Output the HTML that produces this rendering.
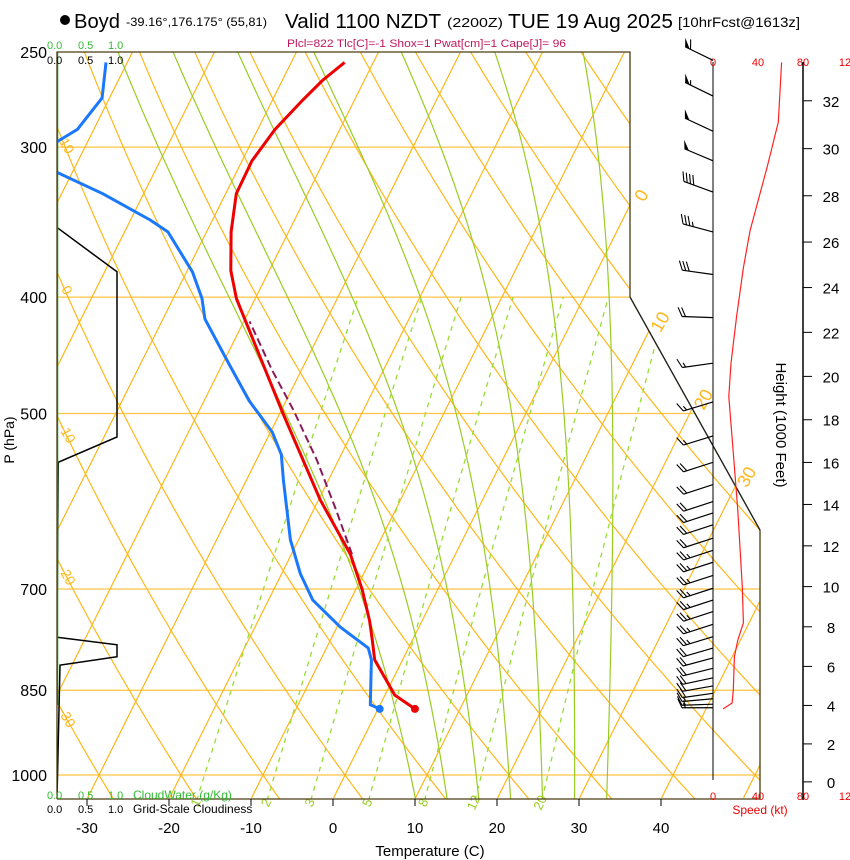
<!DOCTYPE html>
<html><head><meta charset="utf-8">
<style>
html,body{margin:0;padding:0;background:#fff;}
svg{display:block;font-family:"Liberation Sans",sans-serif;}
</style></head>
<body>
<svg id="chart" width="850" height="860" viewBox="0 0 850 860" xmlns="http://www.w3.org/2000/svg">
<defs><clipPath id="plotclip"><polygon points="57,52 630,52 630,297 760,530 760,799 57,799"/></clipPath></defs>
<g>
<circle cx="65" cy="20" r="5" fill="#000"/>
<text x="74" y="28" font-size="20" textLength="46" lengthAdjust="spacingAndGlyphs">Boyd</text>
<text x="126" y="26" font-size="12" textLength="141" lengthAdjust="spacingAndGlyphs">-39.16°,176.175° (55,81)</text>
<text x="285" y="28" font-size="20" textLength="156" lengthAdjust="spacingAndGlyphs">Valid 1100 NZDT</text>
<text x="447" y="27" font-size="13" textLength="56" lengthAdjust="spacingAndGlyphs">(2200Z)</text>
<text x="508" y="28" font-size="20" textLength="165" lengthAdjust="spacingAndGlyphs">TUE 19 Aug 2025</text>
<text x="678" y="27" font-size="14" textLength="122" lengthAdjust="spacingAndGlyphs">[10hrFcst@1613z]</text>
</g>
<text x="287" y="47" font-size="11" fill="#c0185c" textLength="279" lengthAdjust="spacingAndGlyphs">Plcl=822 Tlc[C]=-1 Shox=1 Pwat[cm]=1 Cape[J]= 96</text>
<g id="grid" clip-path="url(#plotclip)"></g>
<g id="data" clip-path="url(#plotclip)"></g>
<g id="over"></g>
</svg>
<script>
// ---- data ----
const isobars = [300,400,500,700,850,1000];
const pressureLabels = ["250","300","400","500","700","850","1000"];
const pressureLabelValues = [250,300,400,500,700,850,1000];
const tempTicks = [-30,-20,-10,0,10,20,30,40];
const mixRatios = [1,2,3,5,8,12,20];
const moistStarts = [8,12,16,20,24,28,32];
const tempP = [881,858,802,772,744,701,655,590,500,401,380,353,328,308,290,274,264,255];
const tempT = [4.5,1.2,-3.4,-4.9,-6.4,-9.2,-12.8,-19.8,-29.6,-42.3,-44.7,-47,-48.7,-48.8,-47.9,-46.3,-45.1,-43.5];
const dewP = [881,874,802,784,753,715,680,637,568,541,518,488,452,417,401,381,353,345,328,315,305,298,290,273,255];
const dewT = [0.2,-1.2,-3.8,-4.9,-9.6,-14.6,-17.7,-21,-25.5,-27.3,-29.8,-34.5,-39.6,-44.9,-46.5,-49.3,-54.7,-57.6,-65,-71.8,-78,-74,-72,-70.9,-72.6];
const parcelP = [655,601,547,497,460,419];
const parcelT = [-12.6,-17.3,-22.6,-28.5,-33.6,-39.3];
const cloudP = [350,381,523,549,768,779,797,810,1045];
const cloudF = [0,1,1,0.02,0,1,1,0.05,0];
const windP = [254,272,291,308,327,353,383,416,454,489,522,549,573,592,605,619,635,650,665,682,699,715,731,749,767,784,799,815,830,843,855,864,873,879];
const windS = [60,57,52,49,40,33,28,20,16,14,16,18,20,20,21,21,22,23,24,25,25,25,25,25,23,22,20,19,18,18,18,17,17,15];
const windD = [296,296,295,293,290,285,278,272,262,253,253,252,252,252,252,252,252,252,252,252,252,252,252,252,253,254,255,256,258,260,262,265,268,270];
const spdP = [255,286,312,352,378,415,454,484,539,602,697,747,772,797,850,871,881];
const spdV = [61,58,48,33,27,21,16,14,18,22,26,27,22,19,18,17,9];
const heightTicks = [0,2,4,6,8,10,12,14,16,18,20,22,24,26,28,30,32];
const dryLabels = [10,0,-10,-20,-30];
// ---- scales ----
const yP = p => 775 - 521.5*Math.log(1000/p);
const pY = y => 1000*Math.exp((y-775)/521.5);
const xT = (T,p) => 333 + 8.2*T + 0.5*(799 - yP(p));
const xSpd = s => 713 + 1.125*s;
const NS = "http://www.w3.org/2000/svg";
function mk(tag, attrs, parent){const e=document.createElementNS(NS,tag);for(const k in attrs)e.setAttribute(k,attrs[k]);parent.appendChild(e);return e;}
const grid=document.getElementById('grid'), dat=document.getElementById('data'), over=document.getElementById('over');
const ORANGE="#ffb71a", GREEN="#99cc22";
function pathFrom(pts){return pts.map((q,i)=>(i?'L':'M')+q[0].toFixed(1)+' '+q[1].toFixed(1)).join(' ');}
isobars.forEach(p=>{
  const l=mk('line',{x1:57,x2:760,y1:yP(p),y2:yP(p),stroke:"#ffc444","stroke-width":1.2},grid);
  
  
});
for(let T=-110;T<=50;T+=10){
  const l=mk('line',{x1:xT(T,1045),y1:yP(1045),x2:xT(T,240),y2:yP(240),stroke:ORANGE,"stroke-width":1.2},grid);
  
  
}
for(let th=-40;th<=170;th+=10){
  const pts=[];for(let p=1050;p>=240;p-=10){const T=(th+273.15)*Math.pow(p/1000,0.2857)-273.15;pts.push([xT(T,p),yP(p)]);}
  const e=mk('path',{d:pathFrom(pts),fill:"none",stroke:ORANGE,"stroke-width":1.2},grid);
  
  
}
function es(Tc){return 6.112*Math.exp(17.67*Tc/(Tc+243.5));}
function dTdp(T,p){const e=es(T-273.15);const rs=0.622*e/(p-e);return (287*T+2.5e6*rs)/(1004+2.5e6*2.5e6*rs*0.622/(287*T*T))/p;}
function integ(T0,p0,p1,dp){const out=[];let T=T0;for(let p=p0;dp<0?p>=p1:p<=p1;p+=dp){out.push([p,T]);const k1=dTdp(T,p);const k2=dTdp(T+k1*dp/2,p+dp/2);T+=k2*dp;}return out;}
moistStarts.forEach(t0=>{
  const up=integ(t0+273.15,1000,240,-2), dn=integ(t0+273.15,1000,1050,2);
  const all=dn.reverse().concat(up);
  const e=mk('path',{d:pathFrom(all.map(q=>[xT(q[1]-273.15,q[0]),yP(q[0])])),fill:"none",stroke:GREEN,"stroke-width":1.2},grid);
  
  
});
function tw(w,p){const e=w*p/(622+w);const l=Math.log(e/6.112);return 243.5*l/(17.67-l);}
mixRatios.forEach(w=>{
  const pts=[];for(let p=1050;p>=400;p-=10)pts.push([xT(tw(w,p),p),yP(p)]);
  const e=mk('path',{d:pathFrom(pts),fill:"none",stroke:"#99dd33","stroke-width":1.3,"stroke-dasharray":"5,5"},grid);
  
  
  const pL=1030, x=xT(tw(w,pL),pL), y=yP(pL)+14;
  const t=mk('text',{x:x,y:y,"font-size":13,fill:"#99cc22","text-anchor":"middle",transform:`rotate(-65 ${x} ${y})`},over);
  t.textContent=String(w);
  
  
});
[0,10,20,30].forEach(T=>{
  let yi=null;for(let y=52;y<799;y+=0.5){const x=xT(T,pY(y));const bx=y<297?630:630+(y-297)*130/233;if(x<=bx){yi=y;break;}}
  if(yi===null)return;
  const y=yi-9,x=xT(T,pY(y))+8;
  const t=mk('text',{x:x,y:y,"font-size":18,fill:ORANGE,"text-anchor":"middle","dominant-baseline":"middle",transform:`rotate(-60 ${x} ${y})`},over);
  t.textContent=String(T);
  
  
});
dryLabels.forEach(th=>{
  let best=null;for(let p=1050;p>=240;p-=1){const T=(th+273.15)*Math.pow(p/1000,0.2857)-273.15;if(xT(T,p)<=62){best=p;break;}}
  if(!best)return;const y=yP(best)+8,x=66;
  const t=mk('text',{x:x,y:y,"font-size":14,fill:ORANGE,"text-anchor":"middle","dominant-baseline":"middle",transform:`rotate(60 ${x} ${y})`},over);
  t.textContent=String(th);
  
  
});
{
  const pts=cloudP.map((p,i)=>[57+60*cloudF[i],yP(p)]);
  const e=mk('path',{d:pathFrom(pts),fill:"none",stroke:"#000","stroke-width":1.5},dat);
  
  
  const g=mk('line',{x1:57,x2:57,y1:52,y2:705,stroke:"#22aa22","stroke-width":2.5},dat);
  
  
}
{
  const e=mk('path',{d:pathFrom(parcelP.map((p,i)=>[xT(parcelT[i],p),yP(p)])),fill:"none",stroke:"#8a1a5a","stroke-width":2,"stroke-dasharray":"8,4"},dat);
  
  
}
{
  const e=mk('path',{d:pathFrom(dewP.map((p,i)=>[xT(dewT[i],p),yP(p)])),fill:"none",stroke:"#1a78ff","stroke-width":3,"stroke-linejoin":"round"},dat);
  
  
  const c=mk('circle',{cx:xT(dewT[0],dewP[0]),cy:yP(dewP[0]),r:4,fill:"#1a78ff"},dat);
  
  
}
{
  const e=mk('path',{d:pathFrom(tempP.map((p,i)=>[xT(tempT[i],p),yP(p)])),fill:"none",stroke:"#ee0000","stroke-width":3,"stroke-linejoin":"round"},dat);
  
  
  const c=mk('circle',{cx:xT(tempT[0],tempP[0]),cy:yP(tempP[0]),r:4,fill:"#ee0000"},dat);
  
  
}
{
  const f=mk('polyline',{points:"57,799 57,52 630,52 630,297 760,530 760,799 57,799",fill:"none",stroke:"#4a3c10","stroke-width":1.3},over);
  
  
  mk('line',{x1:630,y1:297,x2:760,y2:530,stroke:"#222","stroke-width":1.2},over);
}
pressureLabelValues.forEach((p,i)=>{
  const t=mk('text',{x:47,y:yP(p)+6,"font-size":16,"text-anchor":"end"},over);
  t.textContent=pressureLabels[i];
  
  
});
{const t=mk('text',{x:14,y:440,"font-size":14,"text-anchor":"middle",transform:"rotate(-90 14 440)"},over);t.textContent="P (hPa)";

}
tempTicks.forEach(T=>{
  const x=333+8.2*T;
  mk('line',{x1:x,x2:x,y1:799,y2:806,stroke:"#000","stroke-width":1},over);
  const t=mk('text',{x:x,y:833,"font-size":15,"text-anchor":"middle"},over);t.textContent=String(T);
  
  
});
{const t=mk('text',{x:430,y:856,"font-size":15,"text-anchor":"middle"},over);t.textContent="Temperature (C)";

}
function txt(s,x,y,sz,col,name,anchor){const t=mk('text',{x:x,y:y,"font-size":sz,fill:col,"text-anchor":anchor||"start"},over);t.textContent=s;

return t;}
[["0.0",47],["0.5",78],["1.0",108]].forEach(a=>{txt(a[0],a[1],49,11,"#33bb33","cloudwater-scale-top");txt(a[0],a[1],64,11,"#000","cloudiness-scale-top");txt(a[0],a[1],799,11,"#33bb33","cloudwater-scale-bottom");txt(a[0],a[1],813,11,"#000","cloudiness-scale-bottom");});
txt("CloudWater (g/Kg)",133,799,12,"#33bb33","cloudwater-title");
txt("Grid-Scale Cloudiness",133,813,12,"#000","cloudiness-title");
mk('line',{x1:713,x2:713,y1:62,y2:780,stroke:"#000","stroke-width":1},over);
[["0",713],["40",758],["80",803],["12",845]].forEach(a=>{txt(a[0],a[1],66,11,"#ee0000","speed-scale-top","middle");txt(a[0],a[1],800,11,"#ee0000","speed-scale-bottom","middle");});
txt("Speed (kt)",760,814,12,"#ee0000","speed-axis-title","middle");
{
  const e=mk('path',{d:pathFrom(spdP.map((p,i)=>[xSpd(spdV[i]),yP(p)])),fill:"none",stroke:"#ff2222","stroke-width":1.2},over);
  
  
}
windP.forEach((p,i)=>{
  const g=mk('g',{},over);
  
  
  const bx=713,by=yP(p),d=windD[i]*Math.PI/180;
  const ux=Math.sin(d),uy=-Math.cos(d),L=31;
  const ex=bx+ux*L,ey=by+uy*L;
  mk('line',{x1:bx,y1:by,x2:ex,y2:ey,stroke:"#000","stroke-width":1.2},g);
  const a=Math.atan2(uy,ux)+65*Math.PI/180,fx=Math.cos(a),fy=Math.sin(a);
  let s=Math.round(windS[i]/5)*5,pos=0;
  while(s>=50){const x0=ex-ux*pos,y0=ey-uy*pos,x1=ex-ux*(pos+5),y1=ey-uy*(pos+5);
    mk('polygon',{points:`${x0},${y0} ${x0+fx*9},${y0+fy*9} ${x1},${y1}`,fill:"#000"},g);pos+=6;s-=50;}
  while(s>=10){const x0=ex-ux*pos,y0=ey-uy*pos;mk('line',{x1:x0,y1:y0,x2:x0+fx*10,y2:y0+fy*10,stroke:"#000","stroke-width":1.1},g);pos+=3.5;s-=10;}
  if(s>=5){if(pos===0)pos=3.5;const x0=ex-ux*pos,y0=ey-uy*pos;mk('line',{x1:x0,y1:y0,x2:x0+fx*5,y2:y0+fy*5,stroke:"#000","stroke-width":1.1},g);}
});
mk('line',{x1:803,x2:803,y1:62,y2:800,stroke:"#000","stroke-width":1.5},over);
heightTicks.forEach(h=>{
  const p=1013.25*Math.pow(1-6.8756e-6*h*1000,5.2559),y=yP(p);
  mk('line',{x1:803,x2:812,y1:y,y2:y,stroke:"#000","stroke-width":1},over);
  const t=mk('text',{x:831,y:y+6,"font-size":15,"text-anchor":"middle"},over);t.textContent=String(h);
  
  
});
{const t=mk('text',{x:776,y:425,"font-size":15,"text-anchor":"middle",transform:"rotate(90 776 425)"},over);t.textContent="Height (1000 Feet)";

}
</script>
</body></html>
